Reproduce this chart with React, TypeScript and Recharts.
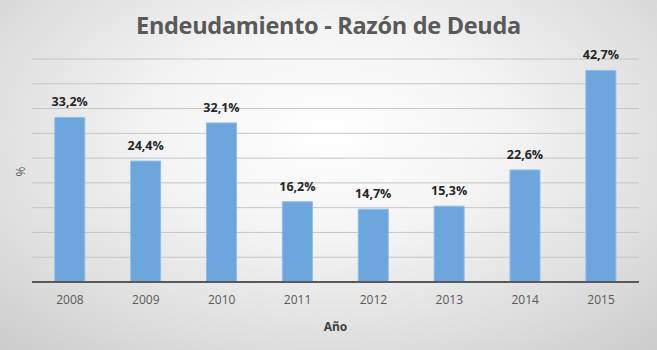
import { Bar, BarChart, CartesianGrid, LabelList, XAxis, YAxis } from "recharts";

const years = ["2008", "2009", "2010", "2011", "2012", "2013", "2014", "2015"];
const debtRatio = [33.2, 24.4, 32.1, 16.2, 14.7, 15.3, 22.6, 42.7];
const yTicks = [0, 5, 10, 15, 20, 25, 30, 35, 40, 45];

const data = years.map((year, i) => ({ year, value: debtRatio[i] }));

function formatPercent(value: unknown) {
  const numeric = Number(value);
  return Number.isFinite(numeric) ? numeric.toFixed(1).replace(".", ",") + "%" : "";
}

const font = "'Open Sans', 'Noto Sans', sans-serif";

export default function App() {
  return (
    <div
      style={{
        position: "absolute",
        left: 0,
        top: 0,
        width: 657,
        height: 350,
        overflow: "hidden",
        fontFamily: font,
        background:
          "radial-gradient(ellipse 75% 85% at 50% 38%, #ffffff 0%, #f4f4f4 35%, #dcdcdc 75%, #cbcbcb 100%)",
      }}
    >
      <div
        style={{
          position: "absolute",
          top: 9,
          left: 0,
          width: 657,
          textAlign: "center",
          fontSize: 23.5,
          fontWeight: 700,
          color: "#595959",
          letterSpacing: -0.3,
        }}
      >
        Endeudamiento - Razón de Deuda
      </div>
      <div
        style={{
          position: "absolute",
          left: 16,
          top: 163,
          fontSize: 12,
          color: "#595959",
          transform: "rotate(-90deg)",
        }}
      >
        %
      </div>
      <BarChart
        width={657}
        height={350}
        data={data}
        margin={{ top: 59, right: 18, left: 32, bottom: 0 }}
        barCategoryGap="30%"
      >
        <CartesianGrid vertical={false} stroke="#c4c4c4" strokeWidth={1} />
        <YAxis
          domain={[0, 45]}
          ticks={yTicks}
          width={0}
          tick={() => <g />}
          axisLine={false}
          tickLine={false}
        />
        <XAxis
          dataKey="year"
          height={68}
          tickLine={false}
          tickSize={0}
          tickMargin={13}
          axisLine={{ stroke: "#595959", strokeWidth: 2 }}
          tick={{ fill: "#595959", fontSize: 12, fontFamily: font }}
          label={{
            value: "Año",
            position: "insideBottom",
            offset: 19,
            fill: "#404040",
            fontSize: 12,
            fontWeight: 700,
            fontFamily: font,
          }}
        />
        <Bar dataKey="value" fill="#6ca6dc" stroke="#8fbde8" strokeWidth={1} isAnimationActive={false}>
          <LabelList
            dataKey="value"
            position="top"
            offset={11}
            formatter={formatPercent}
            style={{ fill: "#262626", fontSize: 12.5, fontWeight: 700, fontFamily: font }}
          />
        </Bar>
      </BarChart>
    </div>
  );
}
